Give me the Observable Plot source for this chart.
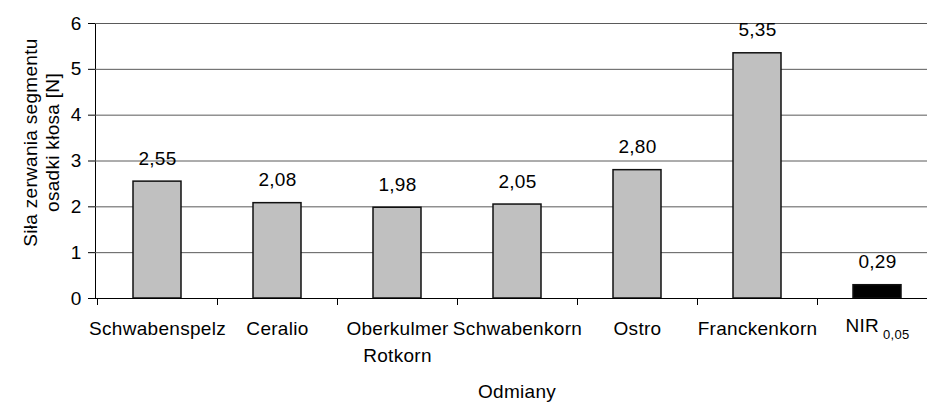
<!DOCTYPE html>
<html>
<head>
<meta charset="utf-8">
<script src="https://cdn.jsdelivr.net/npm/d3@7"></script>
<script src="https://cdn.jsdelivr.net/npm/@observablehq/plot@0.6"></script>
<style>
  body { margin: 0; background: #fff; overflow: hidden; }
</style>
</head>
<body>
<div id="chart"></div>
<script>
// Varieties (and the LSD bar), with the breaking force of the rachis segment in N
const categories = ["Schwabenspelz", "Ceralio", "Oberkulmer Rotkorn", "Schwabenkorn", "Ostro", "Franckenkorn", "NIR 0,05"];
const tickLabels = ["Schwabenspelz", "Ceralio", "Oberkulmer\nRotkorn", "Schwabenkorn", "Ostro", "Franckenkorn", "NIR 0,05"];
const values = [2.55, 2.08, 1.98, 2.05, 2.80, 5.35, 0.29];
const barFills = ["#c0c0c0", "#c0c0c0", "#c0c0c0", "#c0c0c0", "#c0c0c0", "#c0c0c0", "#000000"];
const yTicks = [0, 1, 2, 3, 4, 5, 6];
const yTitle = "Siła zerwania segmentu\nosadki kłosa [N]";
const xTitle = "Odmiany";

const rows = categories.map((c, i) => ({category: c, label: tickLabels[i], value: values[i], fill: barFills[i]}));
const fmt = v => d3.format(".2f")(v).replace(".", ",");

// small tick marks on the category axis, placed at the band boundaries
function boundaryTicks(index, scales) {
  const g = d3.create("svg:g").attr("stroke", "#000");
  const y0 = scales.y(0);
  for (const c of categories) {
    const px = Math.round(scales.x(c)) + 0.5;
    g.append("line").attr("x1", px).attr("x2", px).attr("y1", y0).attr("y2", y0 + 7);
  }
  return g.node();
}

const chart = Plot.plot({
  width: 927,
  height: 403,
  marginLeft: 95,
  marginRight: -11,
  marginTop: 23,
  marginBottom: 105,
  style: {
    fontFamily: "'Liberation Sans', Arial, sans-serif",
    fontSize: "19px",
    color: "#000",
    background: "#fff",
    letterSpacing: "0.3px"
  },
  x: {type: "band", domain: categories, padding: 0, axis: null},
  y: {domain: [0, 6], ticks: yTicks, tickSize: 7, tickPadding: 7, line: true, label: null, tickFormat: d => String(d)},
  color: {type: "identity"},
  marks: [
    Plot.ruleY(yTicks.filter(t => t > 0), {stroke: "#5a5a5a", strokeWidth: 1}),
    Plot.barY(rows, {x: "category", y: "value", fill: d => d.fill, stroke: "#111", strokeWidth: 1.5, insetLeft: 36, insetRight: 36}),
    Plot.ruleY([0], {stroke: "#000"}),
    boundaryTicks,
    Plot.text(rows, {x: "category", y: "value", text: d => fmt(d.value), dy: -23, lineAnchor: "middle", fill: "#000"}),
    Plot.text(rows, {x: "category", y: () => 0, text: "label", lineAnchor: "top", dy: 18, lineHeight: 1.4, fill: "#000"}),
    Plot.text([yTitle], {frameAnchor: "left", textAnchor: "middle", rotate: -90, dx: -54.5, dy: -18.5, lineHeight: 1.16, lineAnchor: "middle", fill: "#000"}),
    Plot.text([xTitle], {frameAnchor: "bottom", textAnchor: "middle", lineAnchor: "top", dy: 86, fill: "#000"})
  ]
});

// the LSD label carries its significance level as a subscript
d3.select(chart).selectAll("text").each(function () {
  if (this.textContent === "NIR 0,05") {
    const t = d3.select(this);
    t.text(null);
    t.append("tspan").attr("dy", -3).text("NIR");
    t.append("tspan").attr("dy", 7).attr("font-size", 13).text(" 0,05");
  }
});

document.getElementById("chart").appendChild(chart);
</script>
</body>
</html>
